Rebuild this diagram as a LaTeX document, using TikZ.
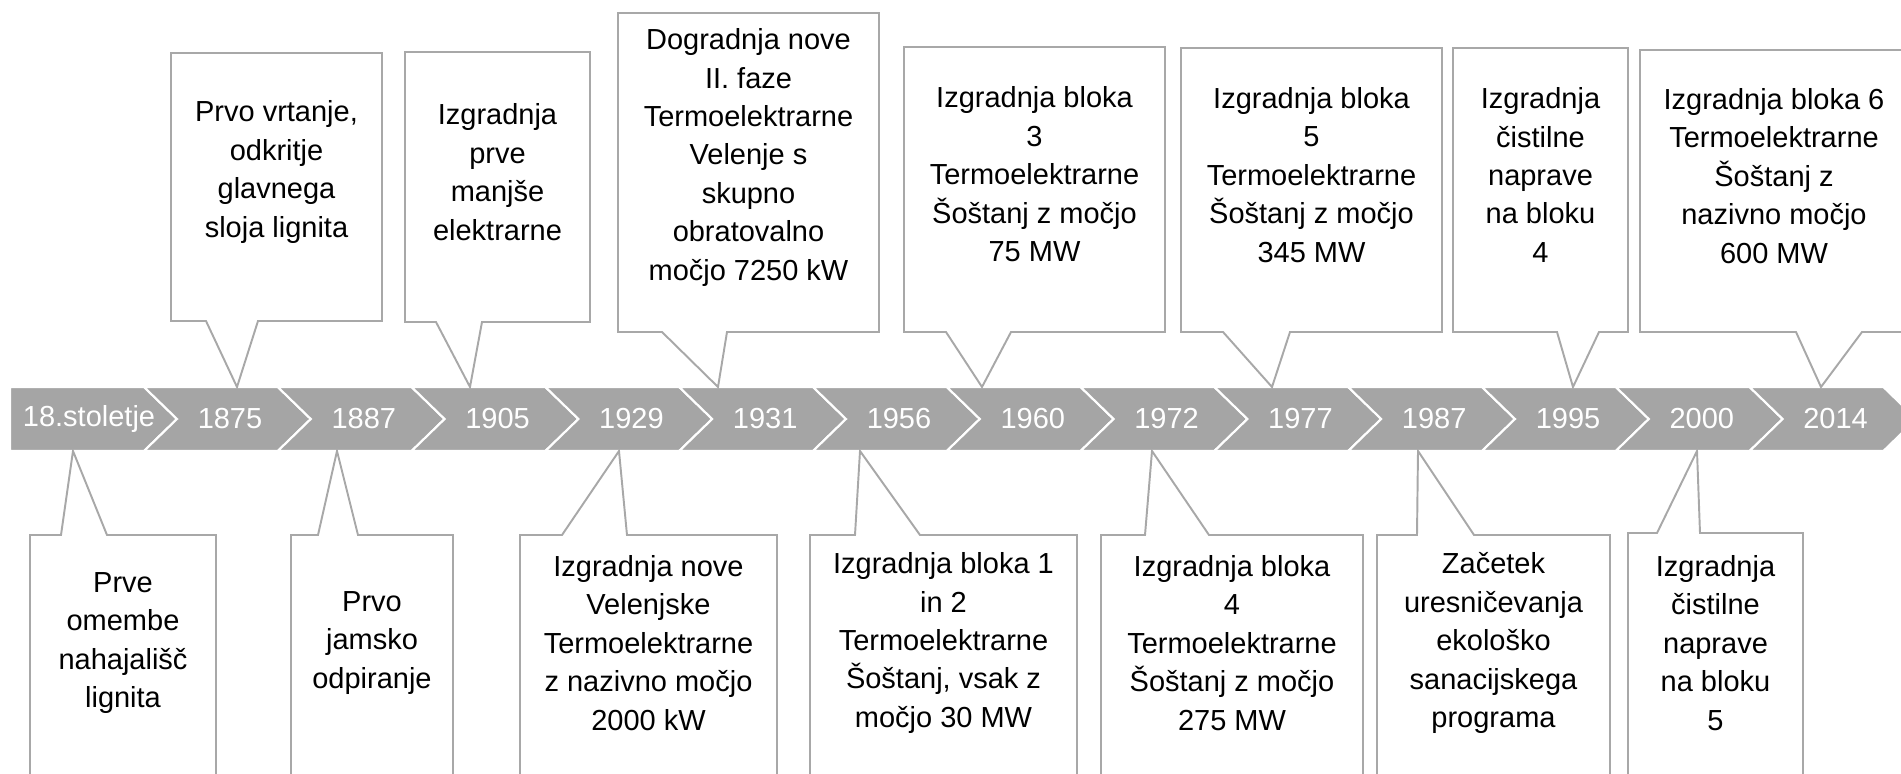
\documentclass[tikz,border=0pt]{standalone}
\usepackage{fontspec}
\setmainfont{Liberation Sans}
\definecolor{bargray}{RGB}{165,165,165}
\definecolor{boxgray}{RGB}{168,168,168}

\begin{document}
\begin{tikzpicture}[x=0.02cm, y=-0.02cm]
\tikzset{stage/.style={fill=bargray, draw=white, line width=1.2pt},
  year/.style={text=white, font=\fontsize{16.5}{20}\selectfont},
  bubble/.style={fill=white, draw=boxgray, line width=1.1pt},
  note/.style={align=center, inner sep=0pt, font=\fontsize{16.5}{21.9}\selectfont}}
\useasboundingbox (0,0) rectangle (1901,774);
\clip (0,0) rectangle (1901,774);

\path[stage] (10,387) -- (144,387) -- (177,419) -- (144,451) -- (10,451) -- cycle;
\foreach \i in {1,...,13}
  \path[stage] ({144+133.8*(\i-1)},387) -- ++(133.8,0) -- ++(33,32) -- ++(-33,32) -- ++(-133.8,0) -- ++(33,-32) -- cycle;
\foreach \yr [count=\i from 0] in {18.stoletje,1875,1887,1905,1929,1931,1956,1960,1972,1977,1987,1995,2000,2014}{
  \pgfmathsetmacro\xc{\i==0 ? 89 : 96.2+133.8*\i}
  \node[year] (y\i) at (\xc,419) {\yr};
}

\foreach \lx/\rx/\ty/\by/\ax/\zx/\px/\txt [count=\k] in {
  171/382/53/321/206/258/237/{Prvo vrtanje,\\odkritje\\glavnega\\sloja lignita},
  405/590/52/322/436/482/470/{Izgradnja\\prve\\manjše\\elektrarne},
  618/879/13/332/662/727/718/{Dogradnja nove\\II. faze\\Termoelektrarne\\Velenje s\\skupno\\obratovalno\\močjo 7250 kW},
  904/1165/47/332/946/1011/982/{Izgradnja bloka\\3\\Termoelektrarne\\Šoštanj z močjo\\75 MW},
  1181/1442/48/332/1223/1290/1272/{Izgradnja bloka\\5\\Termoelektrarne\\Šoštanj z močjo\\345 MW},
  1453/1628/48/332/1557/1599/1573/{Izgradnja\\čistilne\\naprave\\na bloku\\4},
  1640/1908/50/332/1796/1862/1821/{Izgradnja bloka 6\\Termoelektrarne\\Šoštanj z\\nazivno močjo\\600 MW}}{
  \path[bubble] (\lx,\ty) -- (\rx,\ty) -- (\rx,\by) -- (\zx,\by) -- (\px,387) -- (\ax,\by) -- (\lx,\by) -- cycle;
  \node[note] (up\k) at ({(\lx+\rx)/2},{(\ty+\by)/2-15}) {\txt};
}

\foreach \lx/\rx/\ty/\ax/\zx/\px/\txt [count=\k] in {
  30/216/535/61/107/73/{Prve\\omembe\\nahajališč\\lignita},
  291/453/535/318/358/337/{Prvo\\jamsko\\odpiranje},
  520/777/535/562/627/619/{Izgradnja nove\\Velenjske\\Termoelektrarne\\z nazivno močjo\\2000 kW},
  810/1077/535/855/920/860/{Izgradnja bloka 1\\in 2\\Termoelektrarne\\Šoštanj, vsak z\\močjo 30 MW},
  1101/1363/535/1145/1209/1152/{Izgradnja bloka\\4\\Termoelektrarne\\Šoštanj z močjo\\275 MW},
  1377/1610/535/1417/1474/1418/{Začetek\\uresničevanja\\ekološko\\sanacijskega\\programa},
  1628/1803/533/1657/1700/1697/{Izgradnja\\čistilne\\naprave\\na bloku\\5}}{
  \path[bubble] (\lx,\ty) -- (\ax,\ty) -- (\px,451) -- (\zx,\ty) -- (\rx,\ty) -- (\rx,790) -- (\lx,790) -- cycle;
  \node[note] (low\k) at ({(\lx+\rx)/2},643) {\txt};
}
\end{tikzpicture}
\end{document}
